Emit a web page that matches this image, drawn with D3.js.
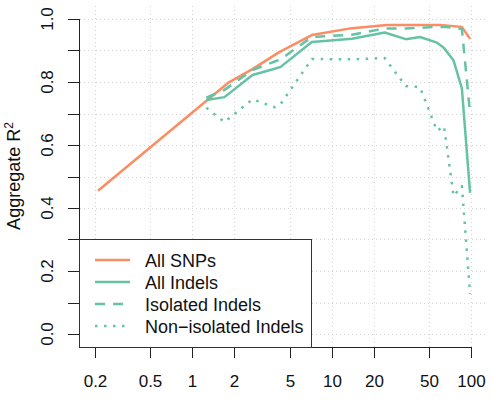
<!DOCTYPE html>
<html>
<head>
<meta charset="utf-8">
<script src="https://cdn.jsdelivr.net/npm/d3@7/dist/d3.min.js"></script>
<style>
  html, body { margin: 0; padding: 0; background: #fff; }
  svg { display: block; font-family: "Liberation Sans", Arial, sans-serif; }
</style>
</head>
<body>
<figure id="r2" style="margin:0"></figure>
<script>
// x positions (log scale) and aggregate R^2
const snpX  = [0.21, 1.8, 2.7, 4.2, 7.2, 14, 25, 60, 86, 98.5];
const snpR2 = [0.455, 0.797, 0.841, 0.895, 0.949, 0.971, 0.981, 0.981, 0.975, 0.937];

const indelX = [1.26, 1.7, 2.7, 3.9, 4.3, 7.2, 14, 24, 34, 43, 57, 64, 75, 86, 98.5];
const allIndelR2    = [0.743, 0.752, 0.822, 0.842, 0.848, 0.927, 0.937, 0.957, 0.936, 0.943, 0.925, 0.908, 0.868, 0.78, 0.448];
const isoIndelR2    = [0.75, 0.775, 0.838, 0.865, 0.872, 0.943, 0.95, 0.97, 0.97, 0.972, 0.975, 0.975, 0.972, 0.968, 0.70];
const nonIsoIndelR2 = [0.718, 0.673, 0.745, 0.72, 0.73, 0.873, 0.872, 0.876, 0.787, 0.784, 0.645, 0.66, 0.438, 0.47, 0.127];

const xTicks = [0.2, 0.5, 1, 2, 5, 10, 20, 50, 100];
const xTickLabels = ["0.2", "0.5", "1", "2", "5", "10", "20", "50", "100"];
const yTicks = [0, 0.1, 0.2, 0.3, 0.4, 0.5, 0.6, 0.7, 0.8, 0.9, 1.0];
const yTickLabels = [0, 0.2, 0.4, 0.6, 0.8, 1.0];

const seriesNames = ["All SNPs", "All Indels", "Isolated Indels", "Non\u2212isolated Indels"];

const width = 492, height = 406;
const orange = "#fc8d62", green = "#66c2a5";

const x = d3.scaleLog().domain([0.2, 100]).range([95, 471]);
const y = d3.scaleLinear().domain([0, 1]).range([334, 19]);
// plot region (R adds 4% on each side)
const px0 = 80, px1 = 486, py0 = 6, py1 = 347;

const svg = d3.select("figure#r2")
  .append("svg")
  .attr("width", width)
  .attr("height", height);

// dotted grid
const grid = svg.append("g")
  .attr("stroke", "#d3d3d3")
  .attr("stroke-width", 1)
  .attr("stroke-dasharray", "1,3");
grid.selectAll("line.h")
  .data(yTicks)
  .enter()
  .append("line")
  .attr("x1", px0).attr("x2", px1)
  .attr("y1", d => Math.round(y(d)) + 0.5)
  .attr("y2", d => Math.round(y(d)) + 0.5);
grid.selectAll("line.v")
  .data(xTicks)
  .enter()
  .append("line")
  .attr("y1", py0).attr("y2", py1)
  .attr("x1", d => Math.round(x(d)) + 0.5)
  .attr("x2", d => Math.round(x(d)) + 0.5);

// series
const series = [
  { name: seriesNames[0], xs: snpX,   ys: snpR2,         color: orange, dash: null },
  { name: seriesNames[1], xs: indelX, ys: allIndelR2,    color: green,  dash: null },
  { name: seriesNames[2], xs: indelX, ys: isoIndelR2,    color: green,  dash: "10,8" },
  { name: seriesNames[3], xs: indelX, ys: nonIsoIndelR2, color: green,  dash: "2.5,6.5" }
];

const line = d3.line()
  .x(d => x(d[0]))
  .y(d => y(d[1]));

series.forEach(s => {
  svg.append("path")
    .datum(s.xs.map((v, i) => [v, s.ys[i]]))
    .attr("d", line)
    .attr("fill", "none")
    .attr("stroke", s.color)
    .attr("stroke-width", 2.5)
    .attr("stroke-linejoin", "round")
    .attr("stroke-dasharray", s.dash);
});

// x axis
const xAxis = svg.append("g").attr("transform", "translate(0," + py1 + ")");
xAxis.append("line")
  .attr("x1", x(0.2)).attr("x2", x(100))
  .attr("y1", 0.5).attr("y2", 0.5)
  .attr("stroke", "#222");
xTicks.forEach((t, i) => {
  const tx = Math.round(x(t)) + 0.5;
  xAxis.append("line")
    .attr("x1", tx).attr("x2", tx)
    .attr("y1", 0).attr("y2", 11)
    .attr("stroke", "#222");
  xAxis.append("text")
    .attr("x", tx)
    .attr("y", 40)
    .attr("text-anchor", "middle")
    .attr("font-size", 17)
    .attr("fill", "#111")
    .text(xTickLabels[i]);
});

// y axis
const yAxis = svg.append("g").attr("transform", "translate(" + px0 + ",0)");
yAxis.append("line")
  .attr("x1", -0.5).attr("x2", -0.5)
  .attr("y1", y(0)).attr("y2", y(1))
  .attr("stroke", "#222");
yTicks.forEach(t => {
  const ty = Math.round(y(t)) + 0.5;
  yAxis.append("line")
    .attr("x1", -12).attr("x2", 0)
    .attr("y1", ty).attr("y2", ty)
    .attr("stroke", "#222");
});
yTickLabels.forEach(t => {
  yAxis.append("text")
    .attr("transform", "translate(-27," + y(t) + ") rotate(-90)")
    .attr("text-anchor", "middle")
    .attr("font-size", 17)
    .attr("fill", "#111")
    .text(t.toFixed(1));
});

// y label with superscript
const ylab = svg.append("text")
  .attr("transform", "translate(20,176) rotate(-90)")
  .attr("text-anchor", "middle")
  .attr("font-size", 18)
  .attr("fill", "#111");
ylab.append("tspan").text("Aggregate R");
ylab.append("tspan").attr("font-size", 12).attr("dy", -7).text("2");

// legend
const legend = svg.append("g");
legend.append("rect")
  .attr("x", px0 - 0.5).attr("y", Math.round(y(0.3)) + 0.5)
  .attr("width", 232).attr("height", py1 - Math.round(y(0.3)))
  .attr("fill", "#fff")
  .attr("stroke", "#333");
series.forEach((s, i) => {
  const ly = 260 + i * 22;
  legend.append("line")
    .attr("x1", 95).attr("x2", 130)
    .attr("y1", ly).attr("y2", ly)
    .attr("stroke", s.color)
    .attr("stroke-width", 2.5)
    .attr("stroke-dasharray", s.dash);
  legend.append("text")
    .attr("x", 145).attr("y", ly + 6.5)
    .attr("font-size", 18)
    .attr("fill", "#111")
    .text(s.name);
});
</script>
</body>
</html>
